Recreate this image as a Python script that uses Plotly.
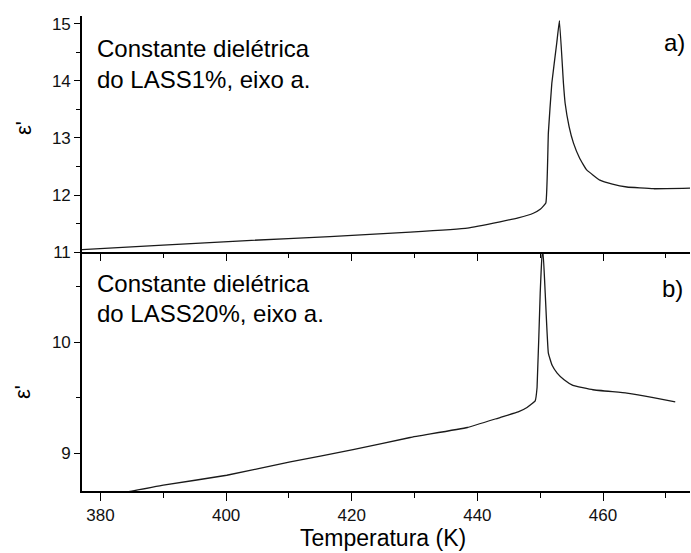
import plotly.graph_objects as go

# Panel a) LASS1%, eixo a
temp_a = [377.05, 389.95, 403.3, 416.5, 429.3, 438.4, 443.6, 446.5, 448.9, 450.0,
          450.9, 451.3, 451.85, 452.64, 453.06, 453.7, 453.97, 454.6, 455.3, 456.3,
          457.4, 459.5, 461.5, 463.8, 468.0, 473.85]
eps_a = [11.04, 11.12, 11.20, 11.27, 11.35, 11.42, 11.53, 11.60, 11.68, 11.75,
         11.86, 13.09, 13.96, 14.67, 15.06, 13.96, 13.61, 13.20, 12.91, 12.64,
         12.44, 12.26, 12.19, 12.14, 12.11, 12.12]

# Panel b) LASS20%, eixo a
temp_b = [377.05, 381.0, 384.2, 390.0, 400.1, 410.2, 420.2, 429.3, 438.4, 443.6,
          446.5, 447.9, 449.2, 449.5, 450.0, 450.3, 450.45, 450.8, 451.3, 451.9,
          452.7, 453.8, 455.2, 458.4, 463.8, 468.0, 471.5]
eps_b = [8.59, 8.64, 8.65, 8.71, 8.80, 8.92, 9.03, 9.14, 9.23, 9.32,
         9.37, 9.41, 9.47, 9.59, 10.44, 10.78, 10.82, 10.44, 9.90, 9.79,
         9.72, 9.66, 9.61, 9.57, 9.54, 9.50, 9.46]

x_ticks = [380, 400, 420, 440, 460]
x_range = [377.05, 473.85]
ya_range = [11, 15.14]
yb_range = [8.658, 10.811]

W, H = 691, 553
L, R, T, B = 82, 1, 16, 62
PH = H - T - B
PW = W - L - R
split = (491 - 252) / PH

def px(x):
    return (x - L) / PW

def py(y):
    return (491 - y) / PH

FONT = "Liberation Sans, Arial, sans-serif"
LINE = dict(color="#1a1a1a", width=1.3, shape="spline", smoothing=0.3)
AX = dict(showline=True, linecolor="black", linewidth=1.6, showgrid=False,
          zeroline=False, tickcolor="black", tickwidth=1.3,
          tickfont=dict(family=FONT, size=17, color="#111"))

fig = go.Figure()
fig.add_trace(go.Scatter(x=temp_b, y=eps_b, mode="lines", line=LINE,
                         xaxis="x", yaxis="y", showlegend=False))
fig.add_trace(go.Scatter(x=temp_a, y=eps_a, mode="lines", line=LINE,
                         xaxis="x2", yaxis="y2", showlegend=False))

fig.update_layout(
    width=W, height=H, margin=dict(l=L, r=R, t=T, b=B),
    paper_bgcolor="white", plot_bgcolor="white",
    xaxis=dict(AX, domain=[0, 1], anchor="y", range=x_range,
               tickmode="array", tickvals=x_ticks, ticks="outside", ticklen=8,
               minor=dict(dtick=10, tick0=380, ticks="outside", ticklen=5,
                          tickcolor="black", tickwidth=1.2)),
    yaxis=dict(AX, domain=[0, split], anchor="x", range=yb_range,
               tickmode="array", tickvals=[9, 10], ticks="outside", ticklen=6,
               minor=dict(dtick=0.5, tick0=9, ticks="outside", ticklen=4,
                          tickcolor="black", tickwidth=1.2)),
    xaxis2=dict(AX, domain=[0, 1], anchor="y2", range=x_range,
                tickmode="array", tickvals=x_ticks, ticks="outside", ticklen=7,
                showticklabels=False,
                minor=dict(dtick=10, tick0=380, ticks="outside", ticklen=4,
                           tickcolor="black", tickwidth=1.2)),
    xaxis3=dict(AX, overlaying="x2", anchor="y2", side="top", range=x_range,
                tickmode="array", tickvals=x_ticks, ticks="inside", ticklen=9,
                showticklabels=False,
                minor=dict(dtick=10, tick0=380, ticks="inside", ticklen=5,
                           tickcolor="black", tickwidth=1.2)),
    yaxis2=dict(AX, domain=[split, 1], anchor="x2", range=ya_range,
                tickmode="array", tickvals=[11, 12, 13, 14, 15], ticks="outside",
                ticklen=6,
                minor=dict(dtick=0.5, tick0=11, ticks="outside", ticklen=4,
                           tickcolor="black", tickwidth=1.2)),
    yaxis3=dict(AX, overlaying="y", anchor="x", side="right", range=yb_range,
                tickmode="array", tickvals=[9, 10], ticks="inside", ticklen=5,
                showticklabels=False),
    yaxis4=dict(AX, overlaying="y2", anchor="x2", side="right", range=ya_range,
                tickmode="array", tickvals=[11, 12, 13, 14, 15], ticks="inside",
                ticklen=5, showticklabels=False),
)

def txt(text, x, y, size=24, xanchor="left", angle=0):
    fig.add_annotation(text=text, x=px(x), y=py(y), xref="paper", yref="paper",
                       xanchor=xanchor, yanchor="middle", showarrow=False,
                       textangle=angle,
                       font=dict(family=FONT, size=size, color="black"))

txt("Constante dielétrica", 95, 48)
txt("do LASS1%, eixo a.", 95, 79)
txt("Constante dielétrica", 95, 283.5)
txt("do LASS20%, eixo a.", 95, 313.5)
txt("a)", 674, 42, xanchor="center")
txt("b)", 672, 288, xanchor="center")
txt("ε'", 23, 128, size=22, xanchor="center", angle=-90)
txt("ε'", 22, 392, size=22, xanchor="center", angle=-90)
txt("Temperatura (K)", 383, 538, size=23, xanchor="center")

fig.write_html("out.html", config={"displayModeBar": False},
               post_script="document.body.style.margin='0';document.body.style.overflow='hidden';")
